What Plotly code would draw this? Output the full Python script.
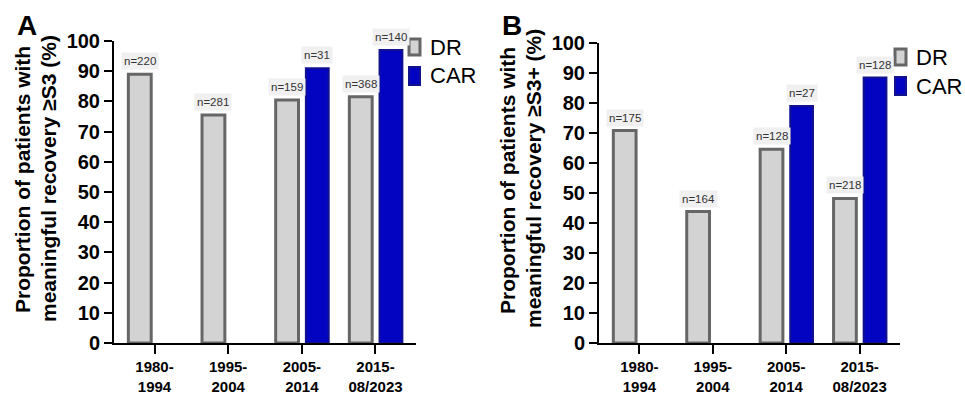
import plotly.graph_objects as go

# ---- data ----
periods = ["1980-<br>1994", "1995-<br>2004", "2005-<br>2014", "2015-<br>08/2023"]

a_dr = [89, 75.5, 80.5, 81.5]
a_car = [None, None, 91, 97]
a_dr_n = [220, 281, 159, 368]
a_car_n = [None, None, 31, 140]

b_dr = [70.8, 43.8, 64.6, 48.2]
b_car = [None, None, 79, 88.5]
b_dr_n = [175, 164, 128, 218]
b_car_n = [None, None, 27, 128]

y_ticks = list(range(0, 101, 10))
series_names = ["DR", "CAR"]
panel_letters = ["A", "B"]
y_titles = [
    ["Proportion of patients with", "meaningful recovery ≥S3 (%)"],
    ["Proportion of patients with", "meaningful recovery ≥S3+ (%)"],
]

# ---- style ----
W, H = 965, 393
FONT = "Liberation Sans, Arial, sans-serif"
DR_FILL, DR_LINE = "#d3d3d3", "#666666"
CAR_FILL, CAR_LINE = "#0303c2", "#12128e"
BAR_W = 0.31
DR_C, CAR_C = -0.2, 0.21

def px(x):
    return x / W

def py(y):
    return 1 - y / H

fig = go.Figure()

panels = [
    dict(dr=a_dr, car=a_car, drn=a_dr_n, carn=a_car_n, xa="x", ya="y",
         xdom=[px(114), px(416)], ydom=[py(343), py(41)], left=0),
    dict(dr=b_dr, car=b_car, drn=b_dr_n, carn=b_car_n, xa="x2", ya="y2",
         xdom=[px(599), px(900)], ydom=[py(343), py(43)], left=485),
]

annotations = []
shapes = []
for k, p in enumerate(panels):
    fig.add_trace(go.Bar(
        x=periods, y=p["dr"], name=series_names[0], xaxis=p["xa"], yaxis=p["ya"],
        width=BAR_W, offset=DR_C - BAR_W / 2,
        marker=dict(color=DR_FILL, line=dict(color=DR_LINE, width=3)),
        showlegend=False, hoverinfo="x+y"))
    fig.add_trace(go.Bar(
        x=periods, y=p["car"], name=series_names[1], xaxis=p["xa"], yaxis=p["ya"],
        width=BAR_W, offset=CAR_C - BAR_W / 2,
        marker=dict(color=CAR_FILL, line=dict(color=CAR_LINE, width=2)),
        showlegend=False, hoverinfo="x+y"))

    xref = p["xa"]
    yref = p["ya"]
    for i in range(len(periods)):
        for vals, ns, c in ((p["dr"], p["drn"], DR_C), (p["car"], p["carn"], CAR_C)):
            if vals[i] is None:
                continue
            annotations.append(dict(
                x=i + c, y=vals[i], xref=xref, yref=yref,
                text=f"n={ns[i]}", showarrow=False, yanchor="bottom", yshift=4,
                font=dict(family=FONT, size=11.5, color="#333333"),
                bgcolor="#f0f0f0", borderpad=2))

    L = p["left"]
    # y-axis title (two lines, placed separately for tight leading)
    for line, cx, cy in zip(y_titles[k], (22, 48), (180, 179)):
        annotations.append(dict(
            x=px(L + cx), y=py(cy), xref="paper", yref="paper",
            text=f"<b>{line}</b>", textangle=-90, showarrow=False,
            xanchor="center", yanchor="middle", align="center",
            font=dict(family=FONT, size=21, color="#000000")))
    # panel letter
    annotations.append(dict(
        x=px(L + 15), y=py(8), xref="paper", yref="paper",
        text=f"<b>{panel_letters[k]}</b>", showarrow=False,
        xanchor="left", yanchor="top",
        font=dict(family=FONT, size=28, color="#000000")))

    # legend (custom)
    if k == 0:
        lx, ly = 408, 38
    else:
        lx, ly = 894, 48
    shapes.append(dict(type="rect", xref="paper", yref="paper",
                       x0=px(lx + 1), x1=px(lx + 12), y0=py(ly + 17), y1=py(ly + 1),
                       fillcolor=DR_FILL, line=dict(color=DR_LINE, width=3)))
    shapes.append(dict(type="rect", xref="paper", yref="paper",
                       x0=px(lx + 1), x1=px(lx + 12), y0=py(ly + 47), y1=py(ly + 29),
                       fillcolor=CAR_FILL, line=dict(color=CAR_LINE, width=2)))
    annotations.append(dict(x=px(lx + 20), y=py(ly + 9), xref="paper", yref="paper",
                            text=series_names[0], showarrow=False,
                            xanchor="left", yanchor="middle",
                            font=dict(family=FONT, size=22, color="#000000")))
    annotations.append(dict(x=px(lx + 20), y=py(ly + 38), xref="paper", yref="paper",
                            text=series_names[1], showarrow=False,
                            xanchor="left", yanchor="middle",
                            font=dict(family=FONT, size=22, color="#000000")))

axis_common = dict(showgrid=False, zeroline=False, showline=True, linecolor="#000000",
                   linewidth=2, ticks="outside", tickcolor="#000000", tickwidth=2,
                   automargin=False)

layout = dict(
    width=W, height=H, margin=dict(l=0, r=0, t=0, b=0, pad=0, autoexpand=False),
    paper_bgcolor="white", plot_bgcolor="white", barmode="overlay",
    annotations=annotations, shapes=shapes,
    font=dict(family=FONT, color="#000000"),
)
for k, p in enumerate(panels):
    sx = "" if k == 0 else "2"
    layout["xaxis" + sx] = dict(
        axis_common, domain=p["xdom"], anchor="y" + sx, range=[-0.55, 3.55],
        type="category", ticklen=9, tickvals=periods, ticktext=[f"<b>{t}</b>" for t in periods],
        tickfont=dict(family=FONT, size=15, color="#000000"))
    layout["yaxis" + sx] = dict(
        axis_common, domain=p["ydom"], anchor="x" + sx, range=[0, 100],
        tickvals=y_ticks, ticktext=[f"<b>{t}</b>" for t in y_ticks], ticklen=8,
        tickfont=dict(family=FONT, size=20, color="#000000"))

fig.update_layout(**layout)
fig.write_html(
    "out.html",
    config={"displayModeBar": False},
    post_script="document.body.style.margin='0';document.body.style.overflow='hidden';",
)
